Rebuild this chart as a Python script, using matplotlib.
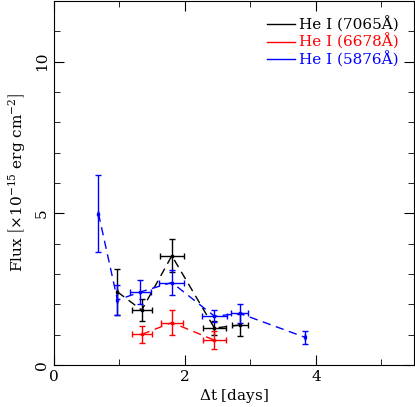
import numpy as np
import matplotlib
matplotlib.use("Agg")
from matplotlib import pyplot as plt
from matplotlib.lines import Line2D
from matplotlib.ticker import MultipleLocator

plt.rcParams['font.family'] = ['DejaVu Serif']
plt.rcParams['mathtext.fontset'] = 'dejavuserif'

# He I 7065
t_7065 = [0.97, 1.34, 1.80, 2.45, 2.84]
f_7065 = [2.41, 1.81, 3.60, 1.22, 1.32]
xe_7065 = [0.0, 0.15, 0.18, 0.18, 0.12]
ye_7065 = [0.75, 0.37, 0.55, 0.23, 0.37]

# He I 6678
t_6678 = [1.34, 1.80, 2.45]
f_6678 = [1.01, 1.40, 0.82]
xe_6678 = [0.15, 0.17, 0.18]
ye_6678 = [0.29, 0.41, 0.29]

# He I 5876
t_5876 = [0.68, 0.97, 1.32, 1.80, 2.45, 2.84, 3.84]
f_5876 = [4.99, 2.14, 2.41, 2.72, 1.61, 1.70, 0.91]
xe_5876 = [0.0, 0.0, 0.16, 0.19, 0.19, 0.13, 0.0]
ye_5876 = [1.27, 0.50, 0.40, 0.40, 0.20, 0.30, 0.20]

series = [
    (t_7065, f_7065, xe_7065, ye_7065, "black", "He I (7065Å)"),
    (t_6678, f_6678, xe_6678, ye_6678, "red", "He I (6678Å)"),
    (t_5876, f_5876, xe_5876, ye_5876, "blue", "He I (5876Å)"),
]

fig = plt.figure(figsize=(4.15, 4.07), dpi=100)
ax = fig.add_axes([0.130, 0.103, 0.868, 0.895])

handles = []
for t, f, xe, ye, c, lab in series:
    ax.errorbar(t, f, xerr=xe, yerr=ye, color=c, ls=(0, (6, 4)), lw=1,
                elinewidth=1, capsize=2.5, marker="s", ms=2)
    handles.append(Line2D([], [], color=c, lw=1, label=lab))

ax.set_xlim(0, 5.5)
ax.set_ylim(0, 12)
ax.xaxis.set_major_locator(MultipleLocator(2))
ax.xaxis.set_minor_locator(MultipleLocator(1))
ax.yaxis.set_major_locator(MultipleLocator(5))
ax.yaxis.set_minor_locator(MultipleLocator(1))
ax.tick_params(which="both", direction="in", top=True, right=True, labelsize=11)
ax.tick_params(which="major", length=7)
ax.tick_params(which="minor", length=4)
ax.tick_params(axis="y", labelrotation=90)
for lbl in ax.get_yticklabels():
    lbl.set_va("center")

ax.set_xlabel(r"$\Delta$t [days]", fontsize=11, labelpad=2)
ax.set_ylabel(r"Flux $\left[\times 10^{-15}\ \mathrm{erg\ cm^{-2}}\right]$", fontsize=11, labelpad=6)

ax.legend(handles=handles, loc="upper right", frameon=False, fontsize=11,
          labelcolor="linecolor", handlelength=1.8, handletextpad=0.3,
          labelspacing=0.1, borderaxespad=0.6)

fig.savefig("out.png", dpi=100)
